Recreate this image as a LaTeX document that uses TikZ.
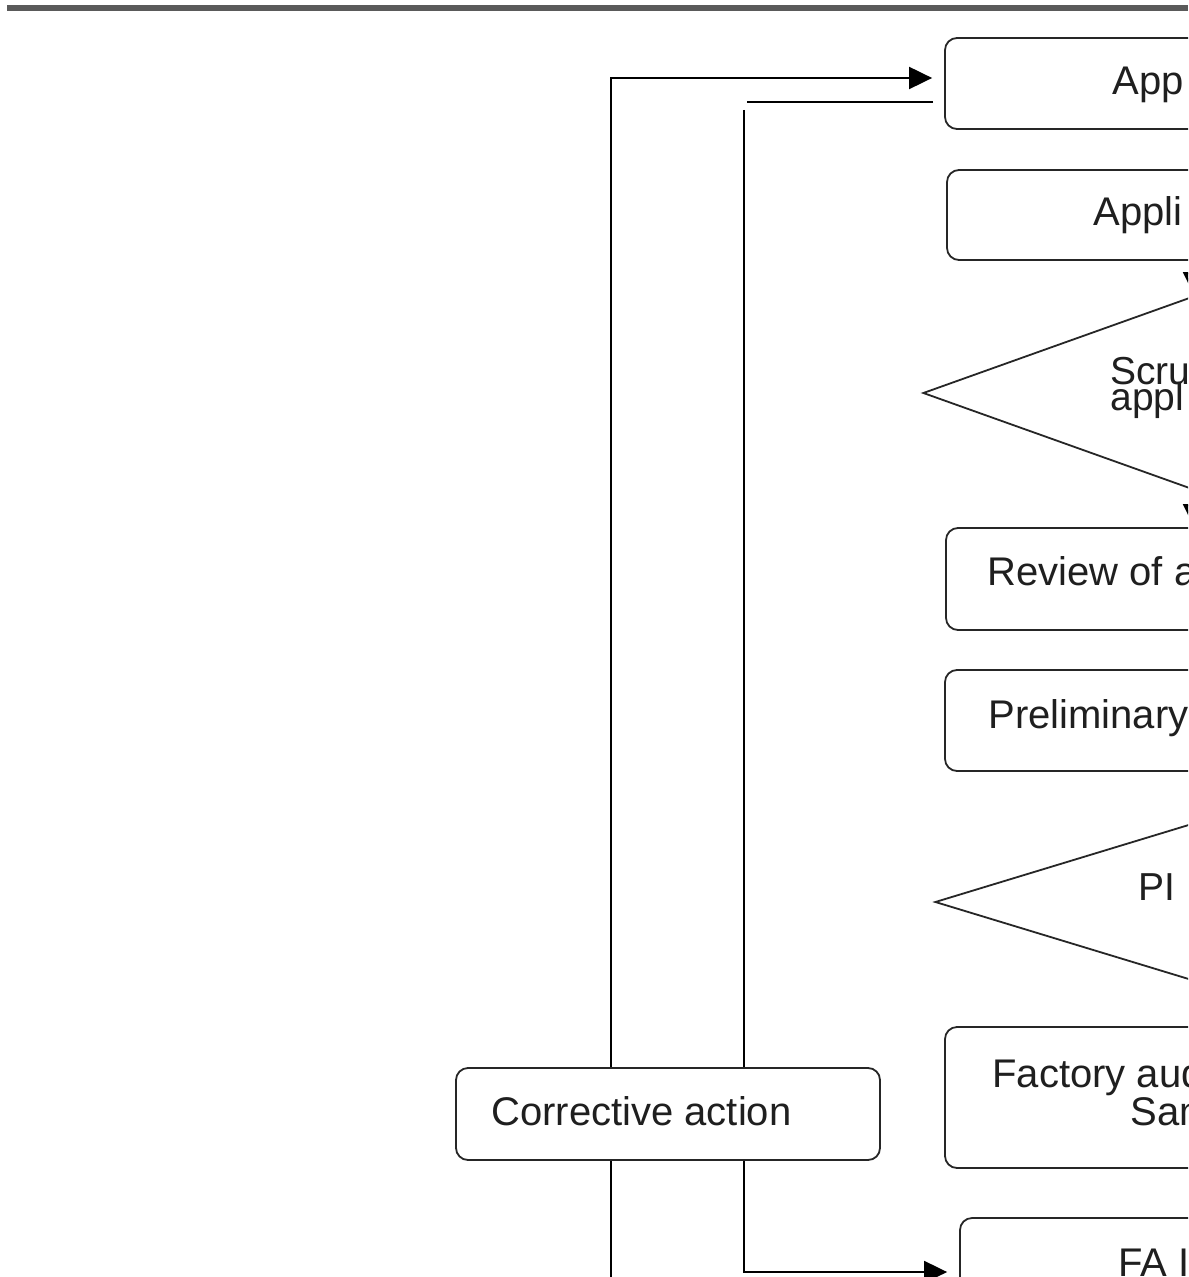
\documentclass[tikz,border=0pt]{standalone}
\usepackage{fontspec}
\setmainfont{Liberation Sans}
\usetikzlibrary{shapes.geometric,arrows.meta,calc}
\begin{document}
\begin{tikzpicture}[x=0.5pt,y=-0.5pt,
  box/.style={rectangle,draw=black!85,line width=0.9pt,rounded corners=6pt,inner sep=0pt,fill=white},
  dia/.style={diamond,draw=black!85,line width=0.9pt,inner sep=0pt,fill=white},
  conn/.style={draw=black,line width=1pt},
  tip/.style={-{Triangle[length=11.5pt,width=11pt]}},
  lbl/.style={inner sep=0pt,anchor=base west,text=black!88,font=\fontsize{20}{24}\selectfont},
  dlbl/.style={inner sep=0pt,anchor=base west,text=black!88,font=\fontsize{19.5}{20}\selectfont}]
\useasboundingbox (0,0) rectangle (1188,1277);
\fill[white] (0,0) rectangle (1188,1277);
\clip (0,0) rectangle (1188,1277);
% top rule
\draw[line width=2.8pt,draw={rgb,255:red,90;green,90;blue,90}] (7,8) -- (1188,8);
% boxes
\node[box,minimum width=249pt,minimum height=45.5pt] (b1) at (1194,83.5) {};
\node[box,minimum width=247pt,minimum height=45pt] (b2) at (1194,215) {};
\node[dia,minimum width=271pt,minimum height=97pt] (d1) at (1194,393) {};
\node[box,minimum width=248pt,minimum height=51pt] (b3) at (1194,579) {};
\node[box,minimum width=249pt,minimum height=50.5pt] (b4) at (1194,720.5) {};
\node[dia,minimum width=259pt,minimum height=79pt] (d2) at (1194,902) {};
\node[box,minimum width=249pt,minimum height=70.5pt] (b5) at (1194,1097.5) {};
\node[box,minimum width=234pt,minimum height=50pt] (b6) at (1194,1268) {};
\node[box,minimum width=212pt,minimum height=46pt] (ca) at (668,1114) {};
% texts
\node[lbl] (t1) at (1112,95) {App};
\node[lbl] (t2) at (1093,226) {Appli};
\node[dlbl] (t3a) at (1110,385) {Scru};
\node[dlbl] (t3b) at (1110,411) {appl};
\node[lbl] (t4) at (987,585) {Review of a};
\node[lbl] (t5) at (988,728) {Preliminary};
\node[dlbl] (t6) at (1138,900) {PI};
\node[lbl] (t7a) at (992,1087) {Factory aud};
\node[lbl] (t7b) at (1130,1125) {Sam};
\node[lbl] (t8) at (1118,1276) {FA I};
\node[lbl] (tca) at (491,1125) {Corrective action};
% connectors
\coordinate (p1) at (611,78);
\draw[conn,tip,shorten >=6pt] (ca.north -| p1) |- (b1.west |- p1);
\coordinate (p2) at (747,102);
\draw[conn,shorten <=5.5pt] (b1.west |- p2) -- (p2);
\coordinate (p3) at (744,110);
\draw[conn] (p3) -- (ca.north -| p3);
\coordinate (p4) at (744,1272);
\draw[conn,tip,shorten >=6pt] (ca.south -| p4) |- (b6.west |- p4);
\coordinate (p5) at (611,1290);
\draw[conn] (p5) -- (ca.south -| p5);
\draw[conn,tip] (b2.south) -- (d1.north);
\draw[conn,tip] (d1.south) -- (b3.north);
\end{tikzpicture}
\end{document}
